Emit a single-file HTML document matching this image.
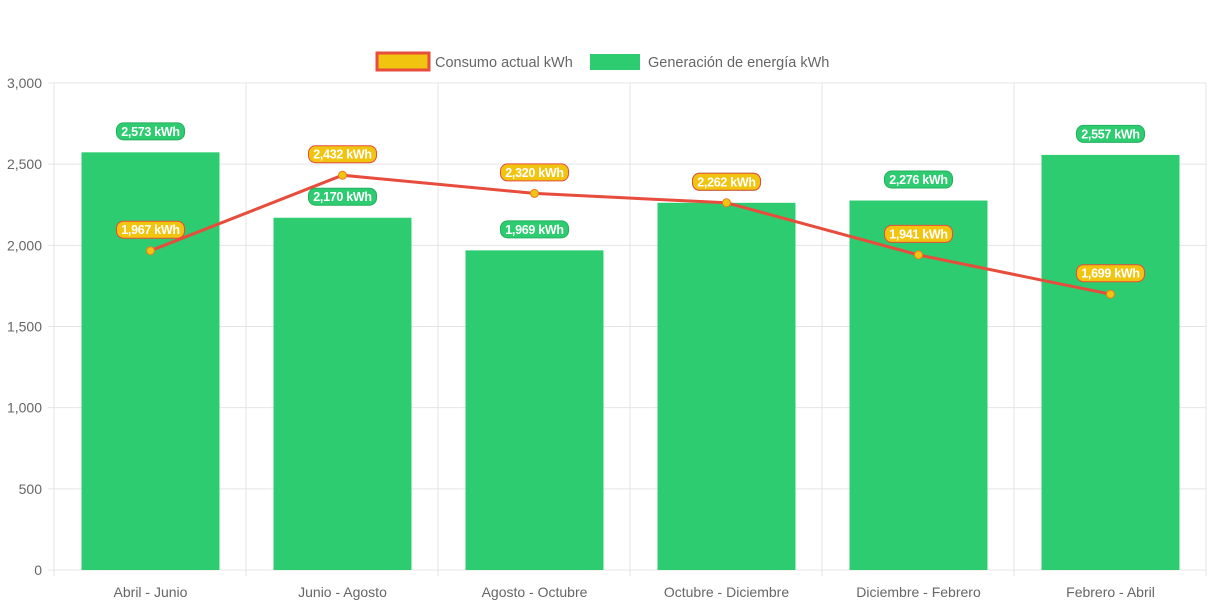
<!DOCTYPE html>
<html><head><meta charset="utf-8"><style>
body{margin:0;background:#fff;font-family:"Liberation Sans",sans-serif}
svg text{font-family:"Liberation Sans",sans-serif}
</style></head><body>
<svg id="c" width="1213" height="606"></svg>
<script>
const categories=["Abril - Junio","Junio - Agosto","Agosto - Octubre","Octubre - Diciembre","Diciembre - Febrero","Febrero - Abril"];
const generation=[2573,2170,1969,2262,2276,2557];
const consumption=[1967,2432,2320,2262,1941,1699];
const yTicks=[0,500,1000,1500,2000,2500,3000];
const NS="http://www.w3.org/2000/svg";
const svg=document.getElementById('c');
const L=54,R=1206,T=83,B=570,yMax=3000;
const bw=(R-L)/categories.length;
const y=v=>B-(v/yMax)*(B-T);
const x=i=>L+bw*(i+0.5)+0.5;
function mk(t,a,p){const e=document.createElementNS(NS,t);for(const k in a)e.setAttribute(k,a[k]);(p||svg).appendChild(e);return e;}
function fmt(v){return v.toLocaleString('en-US');}
yTicks.forEach(v=>{
 const g=mk('line',{x1:L-6,x2:R,y1:y(v),y2:y(v),stroke:'#e5e5e5'});
 
 
 const t=mk('text',{x:L-12,y:y(v)+5,'text-anchor':'end','font-size':14,fill:'#666'});t.textContent=fmt(v);
 
 
});
for(let i=0;i<=categories.length;i++){
 const g=mk('line',{x1:L+bw*i,x2:L+bw*i,y1:T,y2:B+6,stroke:'#e5e5e5'});
 
 
}
categories.forEach((c,i)=>{
 const t=mk('text',{x:x(i),y:597,'text-anchor':'middle','font-size':14,fill:'#666'});t.textContent=c;
 
 
});
generation.forEach((v,i)=>{
 const r=mk('rect',{x:x(i)-69,y:y(v),width:138,height:B-y(v),fill:'#2ecc71'});
 
 
});
const pts=consumption.map((v,i)=>x(i)+','+y(v)).join(' ');
const pl=mk('polyline',{points:pts,fill:'none',stroke:'#e74c3c','stroke-width':3});


consumption.forEach((v,i)=>{
 const c=mk('circle',{cx:x(i),cy:y(v),r:4,fill:'#f1c40f',stroke:'#e67e22','stroke-width':1});
 
 
});
function pill(cx,cy,txt,fill,stroke,name){
 const g=mk('g',{});
 
 
 mk('rect',{x:cx-34,y:cy-8.5,width:68,height:17,rx:7,fill:fill,stroke:stroke,'stroke-width':1},g);
 const t=mk('text',{x:cx,y:cy+4.5,'text-anchor':'middle','font-size':12.5,'font-weight':'bold',fill:'#fff','letter-spacing':'-0.3'},g);t.textContent=txt;
}
generation.forEach((v,i)=>pill(x(i),y(v)-21,fmt(v)+' kWh','#2ecc71','#27ae60','generation-label'));
consumption.forEach((v,i)=>pill(x(i),y(v)-21,fmt(v)+' kWh','#f1c40f','#e74c3c','consumption-label'));
const lg=mk('g',{});


const l1=mk('rect',{x:377,y:53,width:52,height:17,fill:'#f1c40f',stroke:'#e74c3c','stroke-width':3},lg);


const t1=mk('text',{x:435,y:67,'font-size':14.5,fill:'#666'},lg);t1.textContent='Consumo actual kWh';


const l2=mk('rect',{x:590,y:54,width:50,height:16,fill:'#2ecc71'},lg);


const t2=mk('text',{x:648,y:67,'font-size':14.5,fill:'#666'},lg);t2.textContent='Generación de energía kWh';


</script>
</body></html>
